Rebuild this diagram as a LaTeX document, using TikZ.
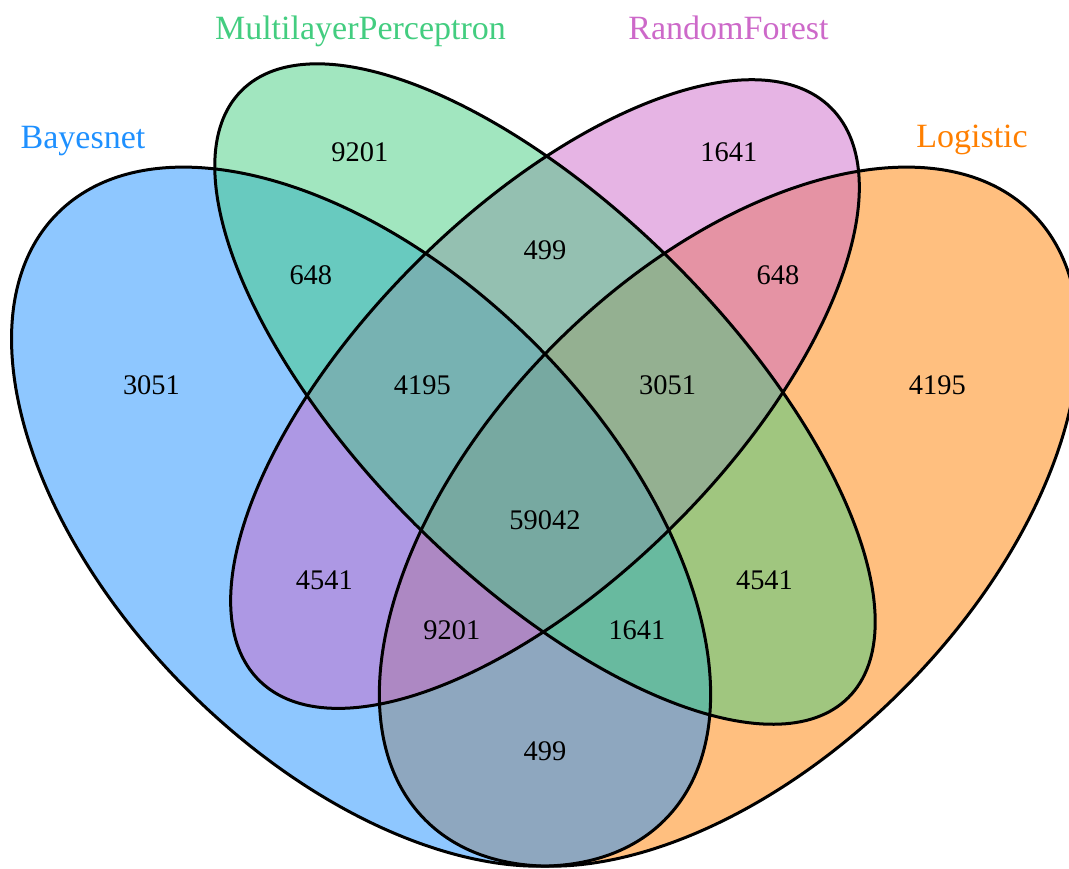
\documentclass[tikz,border=0pt]{standalone}
\usepackage{fontspec}
\setmainfont{Liberation Serif}
\definecolor{bayes}{RGB}{30,144,255}
\definecolor{mlp}{RGB}{67,205,128}
\definecolor{rforest}{RGB}{205,105,201}
\definecolor{logi}{RGB}{255,127,0}
\begin{document}
\begin{tikzpicture}[x=613pt, y=613pt]
    % Styles for the four sets and the region counts
    \tikzset{
        setfill/.style={fill=#1, fill opacity=0.5},
        setline/.style={draw=black, line width=1.5pt},
        setname/.style={anchor=base, inner sep=0pt, font=\fontsize{17}{20}\selectfont, text=#1},
        count/.style={inner sep=0pt, font=\fontsize{14.2}{17}\selectfont}
    }
    \useasboundingbox (0.0555,0.1834) rectangle (0.9274,0.8914);

    % Ellipse centres on the unit square
    \coordinate (cLog) at (0.65, 0.47);
    \coordinate (cBay) at (0.35, 0.47);
    \coordinate (cMid) at (0.50, 0.57);

    % Fills first, back to front
    \foreach \c/\rot/\a/\b/\col in {
        cLog/45/.35/.20/logi,
        cBay/135/.35/.20/bayes,
        cMid/45/.33/.15/rforest,
        cMid/135/.35/.15/mlp%
    } {
        \fill[setfill=\col, rotate around={\rot:(\c)}] (\c) ellipse [x radius=\a, y radius=\b];
    }

    % Black outlines over all fills
    \foreach \c/\rot/\a/\b in {
        cLog/45/.35/.20,
        cBay/135/.35/.20,
        cMid/45/.33/.15,
        cMid/135/.35/.15%
    } {
        \draw[setline, rotate around={\rot:(\c)}] (\c) ellipse [x radius=\a, y radius=\b];
    }

    % Set names
    \node[setname=bayes] (nBay) at (0.1232, 0.7706) {Bayesnet};
    \node[setname=mlp] (nMlp) at (0.3495, 0.8595) {MultilayerPerceptron};
    \node[setname=rforest] (nRf) at (0.6497, 0.8595) {RandomForest};
    \node[setname=logi] (nLog) at (0.8483, 0.7715) {Logistic};

    % Region counts
    \foreach \n/\x/\y/\v in {
        rM/0.349/0.767/9201,
        rR/0.650/0.767/1641,
        rB/0.179/0.577/3051,
        rL/0.820/0.577/4195,
        rBM/0.309/0.667/648,
        rRL/0.690/0.667/648,
        rMR/0.500/0.687/499,
        rBMR/0.400/0.577/4195,
        rMRL/0.600/0.577/3051,
        rAll/0.500/0.467/59042,
        rBR/0.320/0.418/4541,
        rML/0.679/0.418/4541,
        rBRL/0.424/0.377/9201,
        rBML/0.575/0.377/1641,
        rBL/0.500/0.279/499%
    } {
        \node[count] (\n) at (\x, \y) {\v};
    }
\end{tikzpicture}
\end{document}
